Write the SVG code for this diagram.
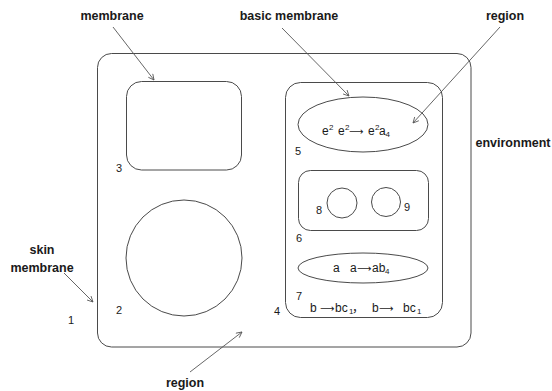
<svg xmlns="http://www.w3.org/2000/svg" width="552" height="391" viewBox="0 0 552 391">
  <defs>
    <marker id="open-arrow" viewBox="0 0 10 10" refX="9" refY="5" markerWidth="7" markerHeight="7" orient="auto" markerUnits="userSpaceOnUse">
      <path d="M1,1 L9,5 L1,9" fill="none" stroke="#555" stroke-width="1.2"/>
    </marker>
    <style>
      .shape { fill: none; stroke: #4a4a4a; stroke-width: 1; }
      .label { font-family: "Liberation Sans", Arial, sans-serif; font-weight: bold; font-size: 12.5px; fill: #1a1a1a; text-anchor: middle; }
      .num { font-family: "Liberation Sans", Arial, sans-serif; font-size: 11px; fill: #1a1a1a; }
      .rule { font-family: "Liberation Sans", "DejaVu Sans", "Noto Sans CJK SC", sans-serif; font-size: 12px; fill: #1a1a1a; }
      .small { font-size: 8px; }
      .arr { font-size: 10px; }
      .pointer { fill: none; stroke: #555; stroke-width: 0.9; marker-end: url(#open-arrow); }
    </style>
  </defs>

  <!-- skin membrane (region 1 outside) -->
  <g id="skin">
    <rect class="shape" x="97.5" y="53.5" width="373.5" height="293.5" rx="14"/>
    <text class="num" x="68" y="324">1</text>
  </g>

  <!-- membrane 3 -->
  <g id="m3">
    <rect class="shape" x="126.5" y="81.5" width="115" height="88.5" rx="15"/>
    <text class="num" x="116" y="172">3</text>
  </g>

  <!-- membrane 2 -->
  <g id="m2">
    <circle class="shape" cx="184" cy="258" r="58"/>
    <text class="num" x="116" y="314">2</text>
  </g>

  <!-- membrane 4 with its rules -->
  <g id="m4">
    <rect class="shape" x="285.5" y="82.5" width="157" height="235" rx="15"/>
    <text class="num" x="274" y="315">4</text>
    <text class="num" x="296" y="300">7</text>
    <text class="rule" y="312"><tspan x="310">b</tspan><tspan class="arr" x="320">⟶</tspan><tspan x="335">bc</tspan><tspan class="small" x="349" dy="2">1</tspan><tspan x="352" dy="-2">，</tspan><tspan x="372">b</tspan><tspan class="arr" x="379">⟶</tspan><tspan x="403">bc</tspan><tspan class="small" x="417" dy="2">1</tspan></text>
  </g>

  <!-- membrane 5 -->
  <g id="m5">
    <ellipse class="shape" cx="363" cy="124.5" rx="65" ry="27.5"/>
    <text class="rule" y="135"><tspan x="322">e</tspan><tspan class="small" x="329" dy="-5">2</tspan><tspan x="338" dy="5">e</tspan><tspan class="small" x="345" dy="-5">2</tspan><tspan class="arr" x="349" dy="5">⟶</tspan><tspan x="368">e</tspan><tspan class="small" x="375" dy="-5">2</tspan><tspan x="379" dy="5">a</tspan><tspan class="small" x="385.5" dy="2">4</tspan></text>
    <text class="num" x="295" y="155">5</text>
  </g>

  <!-- membrane 6 with 8 and 9 -->
  <g id="m6">
    <rect class="shape" x="298.5" y="170.5" width="130" height="60" rx="12"/>
    <text class="num" x="296" y="242">6</text>
  </g>
  <g id="m8">
    <circle class="shape" cx="342" cy="203" r="15"/>
    <text class="num" x="316" y="214">8</text>
  </g>
  <g id="m9">
    <circle class="shape" cx="386" cy="202" r="14.5"/>
    <text class="num" x="404" y="211">9</text>
  </g>

  <!-- membrane 7 -->
  <g id="m7">
    <ellipse class="shape" cx="363" cy="268" rx="65" ry="15"/>
    <text class="rule" y="272"><tspan x="333">a</tspan><tspan x="350">a</tspan><tspan class="arr" x="357">⟶</tspan><tspan x="372">ab</tspan><tspan class="small" x="385" dy="2">4</tspan></text>
  </g>

  <!-- annotation labels -->
  <g id="labels">
    <text class="label" x="112" y="20">membrane</text>
    <text class="label" x="289" y="20">basic membrane</text>
    <text class="label" x="505" y="20">region</text>
    <text class="label" x="513" y="147">environment</text>
    <text class="label" x="42" y="254">skin</text>
    <text class="label" x="42" y="272">membrane</text>
    <text class="label" x="185" y="387">region</text>
  </g>

  <!-- pointers -->
  <g id="connectors">
    <line class="pointer" x1="113" y1="27" x2="154" y2="80"/>
    <line class="pointer" x1="282" y1="28" x2="349" y2="96"/>
    <line class="pointer" x1="500" y1="27" x2="413" y2="123"/>
    <line class="pointer" x1="64" y1="273" x2="93" y2="302"/>
    <line class="pointer" x1="190" y1="372" x2="242" y2="332"/>
  </g>
</svg>
